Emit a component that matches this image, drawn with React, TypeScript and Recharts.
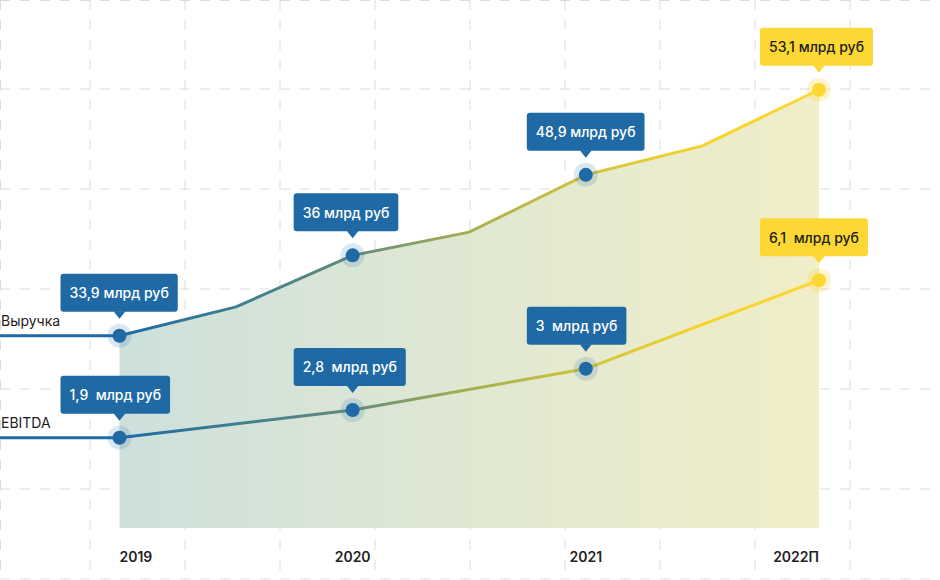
import { Area, CartesianGrid, ComposedChart, Line, XAxis, YAxis } from "recharts";

// x positions: years plus the unlabeled mid-year bends of the revenue line
const years = [2019, 2019.5, 2020, 2020.5, 2021, 2021.5, 2022];
const tickYears = [2019, 2020, 2021, 2022];
const tickLabels = ["2019", "2020", "2021", "2022П"];

// visual height of each point, 0..100 of the chart height
const revenueLevel = [42.0, 47.0, 55.9, 59.9, 69.8, 74.8, 84.5];
const ebitdaLevel = [24.4, null, 29.2, null, 36.3, null, 51.6];
const revenueText = ["33,9 млрд руб", null, "36 млрд руб", null, "48,9 млрд руб", null, "53,1 млрд руб"];
const ebitdaText = ["1,9  млрд руб", null, "2,8  млрд руб", null, "3  млрд руб", null, "6,1  млрд руб"];
const seriesNames = ["Выручка", "EBITDA"];
const areaBase = 8.8;

const W = 940;
const H = 580;
const FONT = "Inter, 'Noto Sans', sans-serif";
const BLUE = "#1f6aa5";
const YELLOW = "#fdd835";

// first row is only the flat lead-in of both lines from the left edge
const data = [
  { x: years[0] - 1, rev: revenueLevel[0], ebitda: ebitdaLevel[0] },
  ...years.map((x, i) => ({
    x,
    rev: revenueLevel[i],
    area: revenueLevel[i],
    ebitda: ebitdaLevel[i],
    revText: revenueText[i],
    ebitdaText: ebitdaText[i],
  })),
];

let ctx: CanvasRenderingContext2D | null = null;
function measure(text: string) {
  if (!ctx) ctx = document.createElement("canvas").getContext("2d");
  if (!ctx) return text.length * 8;
  ctx.font = `500 14px ${FONT}`;
  return ctx.measureText(text).width;
}

const makeDot = (textKey: string, name: string) => (props: any) => {
  const { cx, cy, payload, index } = props;
  const text = payload?.[textKey];
  if (!text || cx == null || cy == null) return <g key={`${textKey}-${index}`} />;
  const last = payload.x === years[years.length - 1];
  const main = last ? YELLOW : BLUE;
  const halo = last ? "rgba(253,216,53,0.25)" : "rgba(31,106,165,0.16)";
  const bw = measure(text) + 18;
  const bx = cx - 59;
  return (
    <g key={`${textKey}-${index}`}>
      {payload.x === years[0] && (
        <text x={1} y={cy - 10} fontSize={14} fill="#1d1d1d" fontFamily={FONT}>
          {name}
        </text>
      )}
      <circle cx={cx} cy={cy} r={12} fill={halo} />
      <circle cx={cx} cy={cy} r={7} fill={main} />
      <rect x={bx} y={cy - 62} width={bw} height={38} rx={3} fill={main} />
      <path d={`M${cx - 6},${cy - 24.5} L${cx + 6},${cy - 24.5} L${cx},${cy - 17} Z`} fill={main} />
      <text
        x={bx + bw / 2}
        y={cy - 43}
        textAnchor="middle"
        dominantBaseline="central"
        fontSize={14}
        fontWeight={500}
        fontFamily={FONT}
        fill={last ? "#1d1d1d" : "#ffffff"}
        style={{ whiteSpace: "pre" }}
      >
        {text}
      </text>
    </g>
  );
};

const YearTick = (props: any) => {
  const { x, payload } = props;
  const i = tickYears.indexOf(payload.value);
  const anchor = i === 0 ? "start" : i === tickYears.length - 1 ? "end" : "middle";
  return (
    <text x={x} y={H - 18} textAnchor={anchor} fontSize={14} fontWeight={600} fill="#222" fontFamily={FONT}>
      {tickLabels[i]}
    </text>
  );
};

export default function App() {
  return (
    <div style={{ position: "absolute", left: 0, top: 0, width: W, height: H, background: "#fff", fontFamily: FONT }}>
      <ComposedChart width={W} height={H} data={data} margin={{ top: 0, right: 0, bottom: 0, left: 0 }}>
        <defs>
          <linearGradient id="lineGrad" gradientUnits="userSpaceOnUse" x1={0} y1={0} x2={W} y2={0}>
            <stop offset="0.128" stopColor="#1f6aa5" />
            <stop offset="0.25" stopColor="#3c7f92" />
            <stop offset="0.377" stopColor="#648c7c" />
            <stop offset="0.49" stopColor="#a3ad52" />
            <stop offset="0.61" stopColor="#cdc23c" />
            <stop offset="0.745" stopColor="#f6d22a" />
            <stop offset="0.87" stopColor="#fdd835" />
          </linearGradient>
          <linearGradient id="areaFill" x1="0" y1="0" x2="1" y2="0">
            <stop offset="0" stopColor="#cde0dc" />
            <stop offset="0.5" stopColor="#e0e8d2" />
            <stop offset="1" stopColor="#f1eec8" />
          </linearGradient>
        </defs>
        <XAxis
          dataKey="x"
          type="number"
          domain={[2018.4875, 2022.519]}
          allowDataOverflow
          ticks={tickYears}
          height={1}
          axisLine={false}
          tickLine={false}
          tick={<YearTick />}
          interval={0}
        />
        <YAxis type="number" domain={[0, 100]} hide />
        <Area
          dataKey="area"
          type="linear"
          baseValue={areaBase}
          stroke="none"
          fill="url(#areaFill)"
          fillOpacity={1}
          dot={false}
          activeDot={false}
          isAnimationActive={false}
        />
        <CartesianGrid
          stroke="#dcdcdc"
          strokeDasharray="10 10"
          horizontalPoints={[0.5, 89, 189, 289, 389, 489, 579]}
          verticalPoints={[0.5, 90, 185, 280, 375, 470, 565, 660, 755, 850]}
        />
        <Line
          dataKey="rev"
          type="linear"
          stroke="url(#lineGrad)"
          strokeWidth={3}
          dot={makeDot("revText", seriesNames[0])}
          activeDot={false}
          isAnimationActive={false}
        />
        <Line
          dataKey="ebitda"
          type="linear"
          connectNulls
          stroke="url(#lineGrad)"
          strokeWidth={3}
          dot={makeDot("ebitdaText", seriesNames[1])}
          activeDot={false}
          isAnimationActive={false}
        />
      </ComposedChart>
    </div>
  );
}
